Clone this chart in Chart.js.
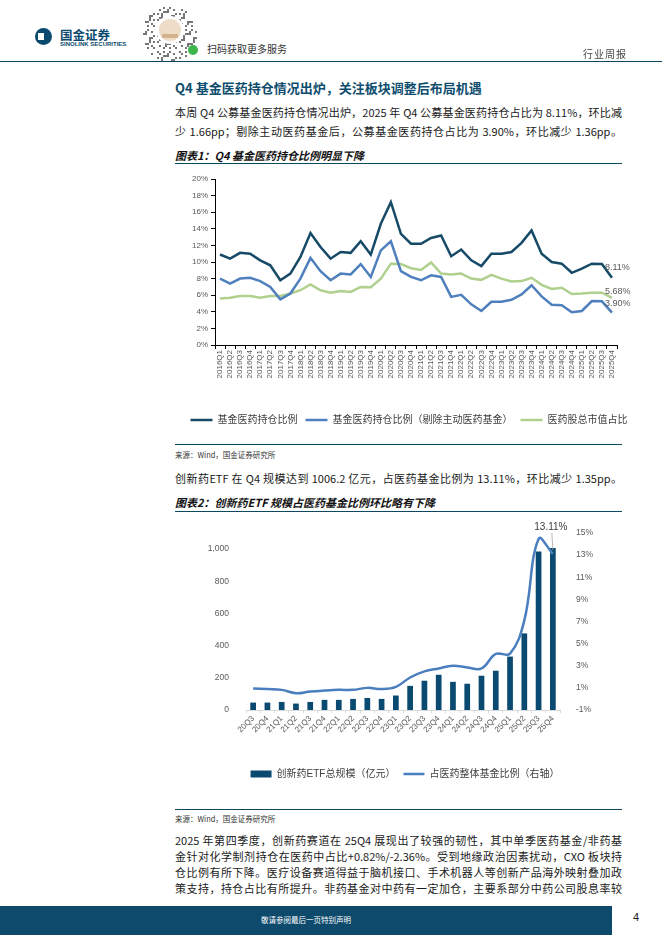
<!DOCTYPE html>
<html>
<head>
<meta charset="utf-8">
<script src="https://cdn.jsdelivr.net/npm/chart.js@4.4.1/dist/chart.umd.min.js"></script>
<style>
  body { margin: 0; background: #fff; }
  #page { position: relative; width: 662px; height: 936px; overflow: hidden; font-family: 'Noto Sans CJK SC', sans-serif; color: #222; }
  .abs { position: absolute; }
  .txt { position: absolute; left: 175px; width: 447px; font-size: 11px; line-height: 16px; text-align: justify; text-align-last: justify; color: #1a1a1a; }
  .figtitle { position: absolute; left: 175px; font-size: 11px; font-weight: bold; font-style: italic; color: #111; }
  .rule { position: absolute; left: 175px; width: 447px; height: 0; border-top: 1.5px solid #0d4863; }
  .source { position: absolute; left: 175px; font-size: 7.5px; color: #333; }
</style>
</head>
<body>
<div id="page">
  <!-- header -->
  <div class="abs" style="left:35px;top:28px;width:17px;height:17px;border-radius:50%;background:#0b4a6f;"></div>
  <div class="abs" style="left:38px;top:33px;width:6px;height:7px;background:#fff;"></div>
  <div class="abs" style="left:60px;top:25px;font-size:12.5px;font-weight:bold;color:#0b4a6f;">国金证券</div>
  <div class="abs" style="left:60px;top:41px;font-size:6px;font-weight:bold;color:#0b4a6f;font-family:'Liberation Sans',sans-serif;">SINOLINK SECURITIES</div>
  <canvas id="qr" class="abs" width="58" height="60" style="left:141px;top:3px;"></canvas>
  <div class="abs" style="left:207px;top:41px;font-size:10px;color:#333;">扫码获取更多服务</div>
  <div class="abs" style="left:583px;top:46px;font-size:10px;color:#444;letter-spacing:1px;">行业周报</div>
  <div class="abs" style="left:0;top:61px;width:662px;border-top:1.5px solid #0d4863;"></div>

  <div class="abs" style="left:175px;top:78px;font-size:13px;font-weight:bold;color:#0e4d6e;">Q4 基金医药持仓情况出炉，关注板块调整后布局机遇</div>
  <div class="txt" style="top:104px;">本周 Q4 公募基金医药持仓情况出炉，2025 年 Q4 公募基金医药持仓占比为 8.11%，环比减</div>
  <div class="txt" style="top:123px;">少 1.66pp；剔除主动医药基金后，公募基金医药持仓占比为 3.90%，环比减少 1.36pp。</div>
  <div class="figtitle" style="top:147px;">图表1：Q4 基金医药持仓比例明显下降</div>
  <div class="rule" style="top:163px;"></div>

  <div class="abs" style="left:170px;top:165px;width:478px;height:270px;"><canvas id="holdChart"></canvas></div>

  <div class="rule" style="top:444px;"></div>
  <div class="source" style="top:449px;">来源：Wind，国金证券研究所</div>
  <div class="txt" style="top:470px;">创新药ETF 在 Q4 规模达到 1006.2 亿元，占医药基金比例为 13.11%，环比减少 1.35pp。</div>
  <div class="figtitle" style="top:494px;">图表2：创新药ETF 规模占医药基金比例环比略有下降</div>
  <div class="rule" style="top:511px;"></div>

  <div class="abs" style="left:175px;top:513px;width:460px;height:276px;"><canvas id="etfChart"></canvas></div>

  <div class="rule" style="top:809px;"></div>
  <div class="source" style="top:813px;">来源：Wind，国金证券研究所</div>
  <div class="txt" style="top:832px;">2025 年第四季度，创新药赛道在 25Q4 展现出了较强的韧性，其中单季医药基金/非药基</div>
  <div class="txt" style="top:848px;">金针对化学制剂持仓在医药中占比+0.82%/-2.36%。受到地缘政治因素扰动，CXO 板块持</div>
  <div class="txt" style="top:864px;">仓比例有所下降。医疗设备赛道得益于脑机接口、手术机器人等创新产品海外映射叠加政</div>
  <div class="txt" style="top:880px;">策支持，持仓占比有所提升。非药基金对中药有一定加仓，主要系部分中药公司股息率较</div>

  <!-- footer -->
  <div class="abs" style="left:0;top:906px;width:612px;height:29px;background:#0d4a6c;"></div>
  <div class="abs" style="left:0;top:914px;width:612px;text-align:center;font-size:7.5px;color:#fff;">敬请参阅最后一页特别声明</div>
  <div class="abs" style="left:633px;top:911px;font-size:11px;color:#222;font-family:'Liberation Sans',sans-serif;">4</div>
</div>

<script>
// ------------------------------
// Chart 1 data: quarterly holding ratios (%)
// ------------------------------
const quarters1 = [
  '2016Q1','2016Q2','2016Q3','2016Q4','2017Q1','2017Q2','2017Q3','2017Q4',
  '2018Q1','2018Q2','2018Q3','2018Q4','2019Q1','2019Q2','2019Q3','2019Q4',
  '2020Q1','2020Q2','2020Q3','2020Q4','2021Q1','2021Q2','2021Q3','2021Q4',
  '2022Q1','2022Q2','2022Q3','2022Q4','2023Q1','2023Q2','2023Q3','2023Q4',
  '2024Q1','2024Q2','2024Q3','2024Q4','2025Q1','2025Q2','2025Q3','2025Q4'
];
const fundShare = [10.9, 10.4, 11.1, 11.0, 10.2, 9.6, 7.8, 8.6, 10.6, 13.5, 11.8, 10.4, 11.2, 11.1, 12.5, 10.9,
  14.6, 17.2, 13.4, 12.2, 12.2, 12.9, 13.2, 10.7, 11.5, 10.2, 9.5, 11.0, 11.0, 11.2, 12.3, 13.8,
  11.0, 10.0, 9.8, 8.7, 9.2, 9.8, 9.77, 8.11];
const fundShareExActive = [8.0, 7.4, 8.0, 8.1, 7.7, 7.0, 5.5, 6.2, 8.0, 10.5, 8.9, 7.8, 8.6, 8.5, 9.75, 8.2,
  11.4, 12.5, 8.9, 8.2, 7.8, 8.4, 8.2, 5.8, 6.05, 4.9, 4.1, 5.2, 5.2, 5.45, 6.1, 7.2,
  5.85, 4.85, 4.8, 3.95, 4.1, 5.3, 5.26, 3.90];
const marketCapShare = [5.6, 5.7, 5.9, 5.9, 5.7, 5.9, 5.9, 6.2, 6.6, 7.3, 6.6, 6.3, 6.5, 6.4, 7.0, 6.95,
  8.0, 9.8, 9.75, 9.25, 9.05, 9.95, 8.6, 8.5, 8.6, 8.0, 7.85, 8.45, 8.0, 7.65, 7.7, 8.1,
  7.25, 6.75, 6.9, 6.15, 6.2, 6.3, 6.3, 5.68];

// ------------------------------
// Chart 2 data: innovative drug ETF scale (亿元) and share of pharma funds (%)
// ------------------------------
const quarters2 = ['20Q3','20Q4','21Q1','21Q2','21Q3','21Q4','22Q1','22Q2','22Q3','22Q4','23Q1',
  '23Q2','23Q3','23Q4','24Q1','24Q2','24Q3','24Q4','25Q1','25Q2','25Q3','25Q4'];
const etfScale = [46, 46, 50, 40, 50, 63, 63, 69, 75, 69, 90, 150, 182, 219, 175, 163, 213, 244, 332, 476, 985, 1006.2];
const etfRatio = [0.94, 0.89, 0.82, 0.52, 0.67, 0.76, 0.82, 0.82, 1.0, 0.89, 1.09, 1.94, 2.49, 2.76, 3.0, 2.85,
  2.76, 4.07, 4.1, 7.1, 14.46, 13.11];

const numFont = "'Liberation Sans','Noto Sans CJK SC',sans-serif";
const tickGray = '#595959';

// fake QR decoration in the header
(function drawQr() {
  const q = document.getElementById('qr').getContext('2d');
  q.fillStyle = '#777';
  for (let i = 0; i < 29; i++) {
    for (let j = 0; j < 30; j++) {
      const dx = i - 14, dy = j - 15;
      if (dx * dx + dy * dy > 190) continue;
      if (((i * 37 + j * 61 + i * j * 7) % 11) < 3) q.fillRect(i * 2, j * 2, 2, 2);
    }
  }
  q.fillStyle = '#fff';
  q.beginPath(); q.arc(29, 27, 14, 0, Math.PI * 2); q.fill();
  q.fillStyle = '#eedcc6';
  q.beginPath(); q.arc(29, 27, 11, 0, Math.PI * 2); q.fill();
  q.fillStyle = '#d4b28e';
  q.fillRect(21, 31, 16, 4);
  q.fillStyle = '#3cb54a';
  q.beginPath(); q.arc(52, 47, 5, 0, Math.PI * 2); q.fill();
})();

// ------------------------------
// end-of-line value labels for chart 1
// ------------------------------
const endLabels = {
  id: 'endLabels',
  afterDatasetsDraw(chart) {
    const ctx = chart.ctx;
    const lift = [10, 9, 6];
    ctx.save();
    ctx.font = '9px ' + numFont;
    ctx.fillStyle = tickGray;
    ctx.textBaseline = 'middle';
    chart.data.datasets.forEach((ds, i) => {
      const pts = chart.getDatasetMeta(i).data;
      const p = pts[pts.length - 1];
      ctx.fillText(ds.data[ds.data.length - 1].toFixed(2) + '%', p.x - 7, p.y - lift[i]);
    });
    ctx.restore();
  }
};

new Chart(document.getElementById('holdChart'), {
  type: 'line',
  data: {
    labels: quarters1,
    datasets: [
      { label: '基金医药持仓比例', data: fundShare, borderColor: '#164a66', backgroundColor: '#164a66',
        borderWidth: 2.5, pointRadius: 0, pointStyle: 'line', tension: 0 },
      { label: '基金医药持仓比例（剔除主动医药基金）', data: fundShareExActive, borderColor: '#4f80bd', backgroundColor: '#4f80bd',
        borderWidth: 2.5, pointRadius: 0, pointStyle: 'line', tension: 0 },
      { label: '医药股总市值占比', data: marketCapShare, borderColor: '#afd08e', backgroundColor: '#afd08e',
        borderWidth: 2.5, pointRadius: 0, pointStyle: 'line', tension: 0 }
    ]
  },
  options: {
    responsive: true,
    maintainAspectRatio: false,
    animation: false,
    layout: { padding: { top: 14, right: 0, left: 0, bottom: 0 } },
    plugins: {
      tooltip: { enabled: false },
      legend: {
        position: 'bottom',
        labels: { usePointStyle: true, pointStyleWidth: 22, boxHeight: 8, padding: 8,
          color: '#404040', font: { family: numFont, size: 10 } }
      }
    },
    scales: {
      x: {
        offset: true,
        grid: { display: true, drawOnChartArea: false, drawTicks: true, tickLength: 4, color: '#000', offset: true },
        border: { display: true, color: '#000', width: 1 },
        ticks: { autoSkip: false, minRotation: 90, maxRotation: 90, padding: 1, color: tickGray, font: { family: numFont, size: 8 } },
        afterFit: s => { s.height = 62; }
      },
      y: {
        min: 0, max: 20,
        grid: { display: true, drawOnChartArea: false, drawTicks: true, tickLength: 4, color: '#000' },
        border: { display: true, color: '#000', width: 1 },
        ticks: { stepSize: 2, padding: 3, color: tickGray, font: { family: numFont, size: 8 }, callback: v => v + '%' },
        afterFit: s => { s.width = 45; }
      },
      pad: {
        position: 'right', display: true,
        grid: { display: false }, border: { display: false }, ticks: { display: false },
        afterFit: s => { s.width = 31; }
      }
    }
  },
  plugins: [endLabels]
});

// ------------------------------
// label + leader line for the last ratio point in chart 2
// ------------------------------
const lastRatioLabel = {
  id: 'lastRatioLabel',
  afterDatasetsDraw(chart) {
    const ctx = chart.ctx;
    const meta = chart.getDatasetMeta(1);
    const p = meta.data[meta.data.length - 1];
    const top = chart.chartArea.top;
    ctx.save();
    ctx.strokeStyle = '#a6a6a6';
    ctx.lineWidth = 0.8;
    ctx.beginPath();
    ctx.moveTo(p.x - 1, top);
    ctx.lineTo(p.x, p.y - 4);
    ctx.stroke();
    ctx.font = '10px ' + numFont;
    ctx.fillStyle = '#404040';
    ctx.textAlign = 'center';
    ctx.textBaseline = 'middle';
    ctx.fillText(etfRatio[etfRatio.length - 1].toFixed(2) + '%', p.x - 2, top - 6);
    ctx.restore();
  }
};

new Chart(document.getElementById('etfChart'), {
  type: 'bar',
  data: {
    labels: quarters2,
    datasets: [
      { label: '创新药ETF总规模（亿元）', data: etfScale, backgroundColor: '#0b4a70', borderWidth: 0,
        barPercentage: 0.4, categoryPercentage: 1.0, pointStyle: 'rect', yAxisID: 'y', order: 1 },
      { type: 'line', label: '占医药整体基金比例（右轴）', data: etfRatio, borderColor: '#4a7ebf', backgroundColor: '#4a7ebf',
        borderWidth: 2.5, pointRadius: 0, pointStyle: 'line', tension: 0.4, yAxisID: 'y1', order: 0 }
    ]
  },
  options: {
    responsive: true,
    maintainAspectRatio: false,
    animation: false,
    layout: { padding: { top: 20, right: 0, left: 0, bottom: 0 } },
    plugins: {
      tooltip: { enabled: false },
      legend: {
        position: 'bottom',
        labels: { usePointStyle: true, pointStyleWidth: 21, boxHeight: 7, padding: 8,
          sort: (a, b) => a.datasetIndex - b.datasetIndex,
          color: '#404040', font: { family: numFont, size: 10 } }
      }
    },
    scales: {
      x: {
        offset: true,
        grid: { display: true, drawOnChartArea: false, drawTicks: true, tickLength: 3, color: '#d9d9d9', offset: true },
        border: { display: true, color: '#d9d9d9', width: 1 },
        ticks: { autoSkip: false, minRotation: 45, maxRotation: 45, padding: 1, color: tickGray, font: { family: numFont, size: 8 } },
        afterFit: s => { s.height = 51; }
      },
      y: {
        position: 'left', min: 0, max: 1100,
        grid: { display: false }, border: { display: false },
        ticks: { stepSize: 200, padding: 9, color: tickGray, font: { family: numFont, size: 8.5 },
          callback: v => (v % 200 === 0 ? v.toLocaleString('en-US') : '') },
        afterFit: s => { s.width = 71; }
      },
      y1: {
        position: 'right', min: -1, max: 15,
        grid: { display: false }, border: { display: false },
        ticks: { stepSize: 2, padding: 8, color: tickGray, font: { family: numFont, size: 8.5 }, callback: v => v + '%' },
        afterFit: s => { s.width = 75; }
      }
    }
  },
  plugins: [lastRatioLabel]
});
</script>
</body>
</html>
